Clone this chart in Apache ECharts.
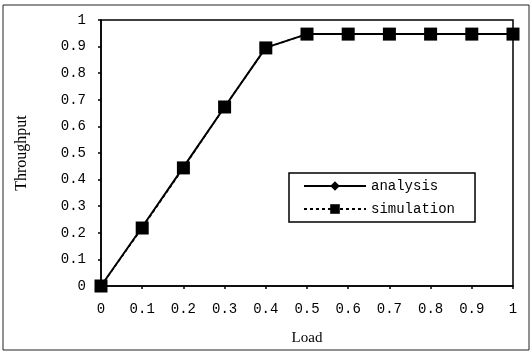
<!DOCTYPE html>
<html>
<head>
<meta charset="utf-8">
<script src="https://cdn.jsdelivr.net/npm/echarts@6/dist/echarts.min.js"></script>
<style>
  html, body { margin: 0; padding: 0; background: #fff; }
  #chart { width: 532px; height: 356px; }
</style>
</head>
<body>
<div id="chart"></div>
<script>
// load values on x axis
const loads = [0, 0.1, 0.2, 0.3, 0.4, 0.5, 0.6, 0.7, 0.8, 0.9, 1];
// throughput
const analysis = [0, 0.222, 0.447, 0.673, 0.896, 0.947, 0.947, 0.947, 0.947, 0.947, 0.947];
const simulation = [0, 0.218, 0.444, 0.673, 0.895, 0.947, 0.947, 0.947, 0.947, 0.947, 0.947];

const serif = 'Liberation Serif';
const mono = 'Liberation Mono';

const chart = echarts.init(document.getElementById('chart'));
chart.setOption({
  animation: false,
  backgroundColor: '#fff',
  textStyle: { fontFamily: serif, color: '#000' },
  graphic: [{
    type: 'rect',
    shape: { x: 3, y: 5, width: 526, height: 345 },
    style: { fill: 'none', stroke: '#222', lineWidth: 1 }
  }],
  grid: { left: 101, right: 19, top: 20, bottom: 70, show: true, borderColor: '#000', borderWidth: 1.5 },
  legend: {
    left: 289, top: 173,
    orient: 'vertical',
    itemWidth: 62, itemHeight: 12, itemGap: 9,
    padding: [6, 20, 6, 14],
    borderColor: '#000', borderWidth: 1.5,
    textStyle: { fontFamily: mono, fontSize: 14, color: '#000' },
    data: ['analysis', 'simulation']
  },
  xAxis: {
    type: 'value', min: 0, max: 1, interval: 0.1,
    name: 'Load', nameLocation: 'middle', nameGap: 45,
    nameTextStyle: { fontFamily: serif, fontSize: 15, color: '#000' },
    axisLine: { lineStyle: { color: '#000', width: 1.5 } },
    axisTick: { length: 3, lineStyle: { color: '#000', width: 1.5 } },
    axisLabel: { fontFamily: mono, fontSize: 14, color: '#000', margin: 16, formatter: v => String(+v.toFixed(1)) },
    splitLine: { show: false }
  },
  yAxis: {
    type: 'value', min: 0, max: 1, interval: 0.1,
    name: 'Throughput', nameLocation: 'middle', nameGap: 71, nameRotate: 90,
    nameTextStyle: { fontFamily: serif, fontSize: 16, color: '#000' },
    axisLine: { show: true, lineStyle: { color: '#000', width: 1.5 } },
    axisTick: { show: true, length: 3, lineStyle: { color: '#000', width: 1.5 } },
    axisLabel: { fontFamily: mono, fontSize: 14, color: '#000', margin: 15, formatter: v => String(+v.toFixed(1)) },
    splitLine: { show: false }
  },
  series: [
    {
      name: 'analysis', type: 'line',
      data: loads.map((x, i) => [x, analysis[i]]),
      symbol: 'diamond', symbolSize: 10,
      itemStyle: { color: '#000' },
      lineStyle: { color: '#000', width: 2, type: 'solid' },
      z: 2
    },
    {
      name: 'simulation', type: 'line',
      data: loads.map((x, i) => [x, simulation[i]]),
      symbol: 'rect', symbolSize: 13,
      itemStyle: { color: '#000' },
      lineStyle: { color: '#000', width: 1.5, type: [3, 3] },
      z: 3
    }
  ]
});
</script>
</body>
</html>
